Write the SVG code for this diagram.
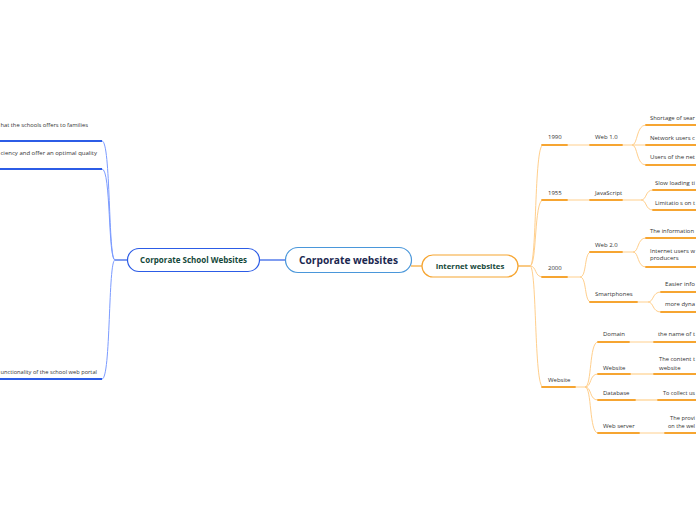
<svg xmlns="http://www.w3.org/2000/svg" width="696" height="520" viewBox="0 0 696 520">
<style>
.t{font-family:"Open Sans","Noto Sans","Liberation Sans",sans-serif;font-size:6px;fill:#333}
.ul{stroke:#f6a531;stroke-width:1.8;fill:none;stroke-linecap:round}
.oc{stroke:#ffcf8c;stroke-width:1;fill:none}
.oc2{stroke:#ffe0b3;stroke-width:1.8;fill:none}
.bl{stroke:#2c5ce6;stroke-width:1.8;fill:none}
.bc{stroke:#7b9bff;stroke-width:1;fill:none}
.title{font-family:"Open Sans","Noto Sans","Liberation Sans",sans-serif;font-weight:bold;text-anchor:middle}
</style>
<rect width="696" height="520" fill="#fff"/>
<g id="connectors">
<line x1="259" y1="260" x2="286" y2="260" stroke="#2c5ce6" stroke-width="1.2"/>
<line x1="411" y1="266" x2="422" y2="266" stroke="#f6a531" stroke-width="1.2"/>
<line x1="115" y1="260" x2="128" y2="260" stroke="#2c5ce6" stroke-width="1.2"/>
<path class="bc" d="M115,260 C108,260 111,141 102,141"/>
<path class="bc" d="M115,260 C108,260 111,169 102,169"/>
<path class="bc" d="M115,260 C108,260 111,379 102,379"/>
<line x1="518" y1="266" x2="530" y2="266" stroke="#f6a531" stroke-width="1.2"/>
<path class="oc" d="M530,266 C537,266 534,145 543,145"/>
<path class="oc" d="M530,266 C537,266 534,200 543,200"/>
<path class="oc" d="M530,266 C537,266 534,277 543,277"/>
<path class="oc" d="M530,266 C537,266 534,387 543,387"/>
<line class="oc" x1="567" y1="145" x2="590" y2="145"/>
<path class="oc" d="M622,145 L632,145 C638,145 636,125 646,125"/>
<path class="oc" d="M632,145 L646,145"/>
<path class="oc" d="M632,145 C638,145 636,165 646,165"/>
<line class="oc" x1="567" y1="200" x2="590" y2="200"/>
<path class="oc" d="M622,200 L641,200 C647,200 645,190 653,190"/>
<path class="oc" d="M641,200 C647,200 645,210 653,210"/>
<path class="oc" d="M567,277 L580,277 C587,277 584,252 591,252"/>
<path class="oc" d="M580,277 C587,277 584,302 591,302"/>
<path class="oc" d="M622,252 L633,252 C639,252 637,238 646,238"/>
<path class="oc" d="M633,252 C639,252 637,267 646,267"/>
<path class="oc" d="M637,302 L648,302 C654,302 652,292 661,292"/>
<path class="oc" d="M648,302 C654,302 652,312 661,312"/>
<path class="oc" d="M575,387 L585,387 C592,387 589,342 598,342"/>
<path class="oc" d="M585,387 C592,387 589,374 598,374"/>
<path class="oc" d="M585,387 C592,387 589,400 598,400"/>
<path class="oc" d="M585,387 C592,387 589,433 598,433"/>
<line class="oc" x1="629" y1="342" x2="654" y2="342"/>
<line class="oc2" x1="630" y1="374" x2="654" y2="374"/>
<line class="oc2" x1="635" y1="400" x2="658" y2="400"/>
<line class="oc" x1="639" y1="433" x2="665" y2="433"/>
</g>
<g id="n-root">
<rect x="285.5" y="247.5" width="126" height="25" rx="12.5" fill="#fff" stroke="#4a97da" stroke-width="1.2"/>
<text class="title" x="348.5" y="264" font-size="10.2" fill="#1b2850">Corporate websites</text>
</g>
<g id="n-school">
<rect x="127.5" y="248.5" width="132" height="23" rx="11.5" fill="#fff" stroke="#2c5ce6" stroke-width="1.2"/>
<text class="title" x="193.5" y="263" font-size="8" fill="#14483a">Corporate School Websites</text>
</g>
<g id="n-internet">
<rect x="422" y="255" width="96" height="22" rx="11" fill="#fff" stroke="#f6a531" stroke-width="1.2"/>
<text class="title" x="470" y="269" font-size="7.8" fill="#14483a">Internet websites</text>
</g>
<g id="n-l1"><line class="bl" x1="-5" y1="141" x2="102" y2="141"/><text class="t" x="0.5" y="127" textLength="87.5" lengthAdjust="spacingAndGlyphs">hat the schools offers to families</text></g>
<g id="n-l2"><line class="bl" x1="-5" y1="169" x2="102" y2="169"/><text class="t" x="0.5" y="155" textLength="96.5" lengthAdjust="spacingAndGlyphs">ciency and offer an optimal quality</text></g>
<g id="n-l3"><line class="bl" x1="-5" y1="379" x2="102" y2="379"/><text class="t" x="0.5" y="374" textLength="96.5" lengthAdjust="spacingAndGlyphs">unctionality of the school web portal</text></g>
<g id="n-1990"><line class="ul" x1="542" y1="145" x2="567" y2="145"/><text class="t" x="548" y="139">1990</text></g>
<g id="n-web10"><line class="ul" x1="590" y1="145" x2="622" y2="145"/><text class="t" x="595" y="139">Web 1.0</text></g>
<g id="n-w10a"><line class="ul" x1="646" y1="125" x2="700" y2="125"/><text class="t" x="650" y="120" textLength="45" lengthAdjust="spacingAndGlyphs">Shortage of sear</text></g>
<g id="n-w10b"><line class="ul" x1="646" y1="145" x2="700" y2="145"/><text class="t" x="650" y="140" textLength="45" lengthAdjust="spacingAndGlyphs">Network users c</text></g>
<g id="n-w10c"><line class="ul" x1="646" y1="165" x2="700" y2="165"/><text class="t" x="650" y="159" textLength="45" lengthAdjust="spacingAndGlyphs">Users of the net</text></g>
<g id="n-1955"><line class="ul" x1="542" y1="200" x2="567" y2="200"/><text class="t" x="548" y="195">1955</text></g>
<g id="n-js"><line class="ul" x1="590" y1="200" x2="622" y2="200"/><text class="t" x="595" y="195">JavaScript</text></g>
<g id="n-jsa"><line class="ul" x1="653" y1="190" x2="700" y2="190"/><text class="t" x="655" y="185" textLength="40" lengthAdjust="spacingAndGlyphs">Slow loading ti</text></g>
<g id="n-jsb"><line class="ul" x1="653" y1="210" x2="700" y2="210"/><text class="t" x="655" y="205" textLength="40" lengthAdjust="spacingAndGlyphs">Limitatio s on t</text></g>
<g id="n-2000"><line class="ul" x1="542" y1="277" x2="567" y2="277"/><text class="t" x="548" y="270">2000</text></g>
<g id="n-web20"><line class="ul" x1="590" y1="252" x2="622" y2="252"/><text class="t" x="595" y="247">Web 2.0</text></g>
<g id="n-w20a"><line class="ul" x1="646" y1="238" x2="700" y2="238"/><text class="t" x="650" y="233" textLength="44" lengthAdjust="spacingAndGlyphs">The information</text></g>
<g id="n-w20b"><line class="ul" x1="646" y1="267" x2="700" y2="267"/><text class="t" x="650" y="253" textLength="45" lengthAdjust="spacingAndGlyphs">Internet users w</text><text class="t" x="650" y="260">producers</text></g>
<g id="n-smart"><line class="ul" x1="590" y1="302" x2="637" y2="302"/><text class="t" x="595" y="296">Smartphones</text></g>
<g id="n-sma"><line class="ul" x1="661" y1="292" x2="700" y2="292"/><text class="t" x="665" y="286" textLength="30" lengthAdjust="spacingAndGlyphs">Easier info</text></g>
<g id="n-smb"><line class="ul" x1="661" y1="312" x2="700" y2="312"/><text class="t" x="665" y="306" textLength="30" lengthAdjust="spacingAndGlyphs">more dyna</text></g>
<g id="n-website"><line class="ul" x1="542" y1="387" x2="575" y2="387"/><text class="t" x="548" y="382">Website</text></g>
<g id="n-domain"><line class="ul" x1="598" y1="342" x2="629" y2="342"/><text class="t" x="603" y="336">Domain</text></g>
<g id="n-domaina"><line class="ul" x1="654" y1="342" x2="700" y2="342"/><text class="t" x="658" y="336" textLength="37" lengthAdjust="spacingAndGlyphs">the name of t</text></g>
<g id="n-site"><line class="ul" x1="598" y1="374" x2="630" y2="374"/><text class="t" x="603" y="370">Website</text></g>
<g id="n-sitea"><line class="ul" x1="654" y1="374" x2="700" y2="374"/><text class="t" x="659" y="361" textLength="36" lengthAdjust="spacingAndGlyphs">The content t</text><text class="t" x="659" y="370">website</text></g>
<g id="n-db"><line class="ul" x1="598" y1="400" x2="635" y2="400"/><text class="t" x="603" y="395">Database</text></g>
<g id="n-dba"><line class="ul" x1="658" y1="400" x2="700" y2="400"/><text class="t" x="663" y="395" textLength="32" lengthAdjust="spacingAndGlyphs">To collect us</text></g>
<g id="n-ws"><line class="ul" x1="598" y1="433" x2="639" y2="433"/><text class="t" x="603" y="428">Web server</text></g>
<g id="n-wsa"><line class="ul" x1="665" y1="433" x2="700" y2="433"/><text class="t" x="670" y="420" textLength="25" lengthAdjust="spacingAndGlyphs">The provi</text><text class="t" x="668" y="428" textLength="27" lengthAdjust="spacingAndGlyphs">on the wel</text></g>
</svg>
